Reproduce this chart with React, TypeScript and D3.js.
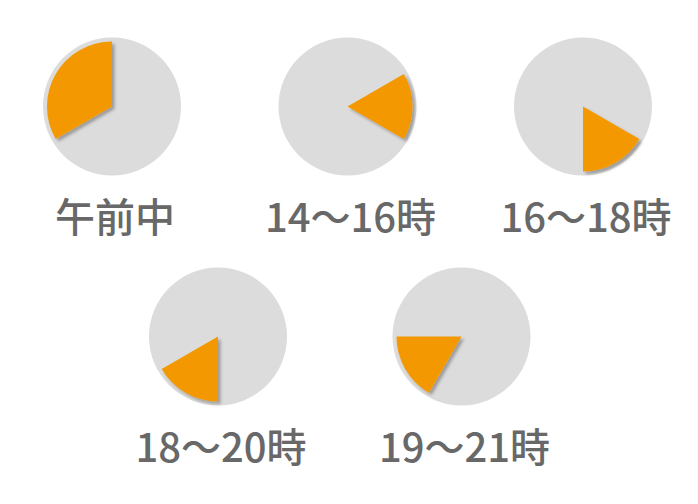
import { useRef, useEffect } from "react";
import * as d3 from "d3";

// Time slots shown as wedges on a 12-hour clock face
const LABELS = ["午前中", "14〜16時", "16〜18時", "18〜20時", "19〜21時"];
const START_HOURS = [8, 14, 16, 18, 19];
const END_HOURS = [12, 16, 18, 20, 21];
const ROW_OF = [0, 0, 0, 1, 1];

const WIDTH = 698;
const HEIGHT = 504;

export default function App() {
  const svgRef = useRef<SVGSVGElement>(null);

  useEffect(() => {
    if (!svgRef.current) return;
    const svg = d3.select(svgRef.current);
    svg.selectAll("*").remove();

    const defs = svg.append("defs");
    defs
      .append("filter")
      .attr("id", "wedge-shadow")
      .attr("x", "-20%")
      .attr("y", "-20%")
      .attr("width", "140%")
      .attr("height", "140%")
      .append("feDropShadow")
      .attr("dx", 2.5)
      .attr("dy", 2.5)
      .attr("stdDeviation", 1.6)
      .attr("flood-color", "#000")
      .attr("flood-opacity", 0.3);

    // hour on the clock -> angle (0 at 12 o'clock, clockwise)
    const angle = d3.scaleLinear().domain([0, 12]).range([0, 2 * Math.PI]);

    const rows = [0, 1].map((r) => LABELS.map((_, i) => i).filter((i) => ROW_OF[i] === r));
    const colScales = [
      d3.scalePoint<number>().domain(rows[0]).range([112, 583]),
      d3.scalePoint<number>().domain(rows[1]).range([218, 461.5]),
    ];
    const rowY = d3.scalePoint<number>().domain([0, 1]).range([106.5, 336.5]);

    const outerR = 69;
    const wedgeR = 65;
    const bgArc = d3.arc<any>().innerRadius(0).outerRadius(outerR);
    const wedgeArc = d3.arc<any>().innerRadius(0).outerRadius(wedgeR);

    const items = LABELS.map((label, i) => {
      const s = START_HOURS[i] % 12;
      let e = END_HOURS[i] % 12;
      if (e <= s) e += 12;
      return { label, i, start: angle(s), end: angle(e) };
    });

    const g = svg
      .selectAll("g.clock")
      .data(items)
      .join("g")
      .attr("class", "clock")
      .attr(
        "transform",
        (d) => `translate(${colScales[ROW_OF[d.i]](d.i)},${rowY(ROW_OF[d.i])})`
      );

    g.append("path")
      .attr("d", () => bgArc({ startAngle: 0, endAngle: 2 * Math.PI }))
      .attr("fill", "#dcdcdc");

    g.append("path")
      .attr("d", (d) => wedgeArc({ startAngle: d.start, endAngle: d.end }))
      .attr("fill", "#f39800")
      .attr("filter", "url(#wedge-shadow)");

    g.append("text")
      .attr("x", 3)
      .attr("y", 125)
      .attr("text-anchor", "middle")
      .attr("fill", "#686868")
      .attr("font-size", 40)
      .attr("font-weight", 500)
      .attr("font-family", "'Noto Sans CJK JP', 'Noto Sans', sans-serif")
      .text((d) => d.label);
  }, []);

  return (
    <svg
      ref={svgRef}
      width={WIDTH}
      height={HEIGHT}
      style={{ position: "absolute", left: 0, top: 0, display: "block", background: "#fff" }}
    />
  );
}
